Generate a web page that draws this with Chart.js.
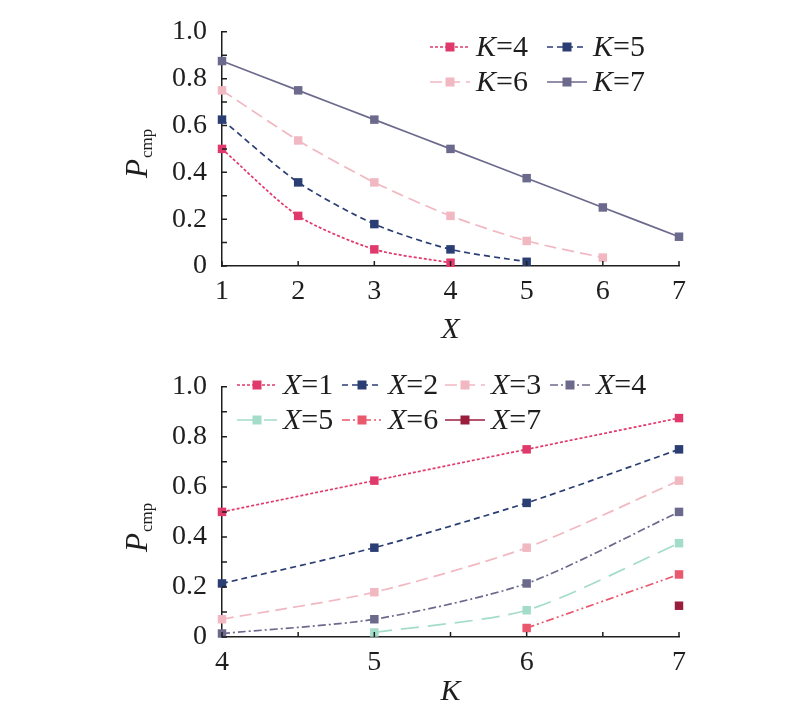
<!DOCTYPE html>
<html>
<head>
<meta charset="UTF-8">
<title>Pcmp</title>
<script src="https://cdn.jsdelivr.net/npm/chart.js"></script>
<style>
  body { margin: 0; background: #fff; }
  canvas { display: block; }
</style>
</head>
<body>
<canvas id="topChart" width="800" height="355"></canvas>
<canvas id="bottomChart" width="800" height="356"></canvas>
<script>
// x values of each panel
const xVals = [1, 2, 3, 4, 5, 6, 7];
const kVals = [4, 5, 6, 7];

// top panel: P_cmp against X, one series per K
const pK4 = [0.5, 0.214, 0.071, 0.014];
const pK5 = [0.625, 0.357, 0.179, 0.071, 0.018];
const pK6 = [0.75, 0.536, 0.357, 0.214, 0.107, 0.036];
const pK7 = [0.875, 0.75, 0.625, 0.5, 0.375, 0.25, 0.125];

// bottom panel: P_cmp against K, one series per X
const pX1 = [0.5, 0.625, 0.75, 0.875];
const pX2 = [0.214, 0.357, 0.536, 0.75];
const pX3 = [0.071, 0.179, 0.357, 0.625];
const pX4 = [0.014, 0.071, 0.214, 0.5];
const pX5 = [null, 0.018, 0.107, 0.375];
const pX6 = [null, null, 0.036, 0.25];
const pX7 = [null, null, null, 0.125];

const yTicks = ['0', '0.2', '0.4', '0.6', '0.8', '1.0'];

const SERIF = '"Liberation Serif", "DejaVu Serif", serif';
const INK = '#1e1e1e';

const styles = {
  pink:   { color: '#e03a6c', dash: [3, 2] },
  navy:   { color: '#2b3e74', dash: [6, 4] },
  rose:   { color: '#f1b8c1', dash: [12, 6] },
  slate:  { color: '#6c6a8c', dash: [] },
  slateD: { color: '#6c6a8c', dash: [8, 3, 2, 3] },
  mint:   { color: '#a4dcca', dash: [18, 9] },
  coral:  { color: '#e9586c', dash: [8, 3, 2, 3, 2, 3] },
  wine:   { color: '#9a1d3e', dash: [] }
};

function makeSet(label, xs, vals, st) {
  return {
    label: label,
    data: vals.map((v, i) => ({ x: xs[i], y: v })),
    borderColor: st.color,
    backgroundColor: st.color,
    borderDash: st.dash,
    borderWidth: 1.7,
    pointStyle: 'rect',
    pointRadius: 6,
    pointHoverRadius: 6,
    pointBorderWidth: 0,
    tension: 0.25,
    spanGaps: false,
    clip: false
  };
}

// inward tick marks, axis titles and legend
function decor(cfg) {
  return {
    id: 'decor',
    afterDraw(chart) {
      const { ctx, scales: { x, y } } = chart;
      ctx.save();
      ctx.strokeStyle = INK;
      ctx.lineWidth = 1.5;
      ctx.setLineDash([]);
      ctx.beginPath();
      x.ticks.forEach(t => {
        const px = x.getPixelForValue(t.value);
        ctx.moveTo(px, y.bottom);
        ctx.lineTo(px, y.bottom - 5);
      });
      y.ticks.forEach(t => {
        const py = y.getPixelForValue(t.value);
        ctx.moveTo(x.left, py);
        ctx.lineTo(x.left + 5, py);
      });
      ctx.stroke();

      ctx.fillStyle = INK;
      // x title
      ctx.font = 'italic 30px ' + SERIF;
      ctx.textAlign = 'center';
      ctx.textBaseline = 'middle';
      ctx.fillText(cfg.xTitle, (x.left + x.right) / 2, cfg.xTitleY);

      // y title P_cmp, rotated
      ctx.save();
      ctx.translate(147, cfg.yTitleY);
      ctx.rotate(-Math.PI / 2);
      ctx.textAlign = 'left';
      ctx.textBaseline = 'alphabetic';
      ctx.font = 'italic 31px ' + SERIF;
      ctx.fillText('P', 0, 0);
      const wP = ctx.measureText('P').width;
      ctx.font = '17px ' + SERIF;
      ctx.fillText('cmp', wP + 1, 5);
      ctx.restore();

      // legend
      chart.data.datasets.forEach((ds, i) => {
        const [lx, ly] = cfg.legend[i];
        ctx.strokeStyle = ds.borderColor;
        ctx.lineWidth = 1.7;
        ctx.setLineDash(ds.borderDash);
        ctx.beginPath();
        ctx.moveTo(lx, ly);
        ctx.lineTo(lx + 40, ly);
        ctx.stroke();
        ctx.setLineDash([]);
        ctx.fillStyle = ds.backgroundColor;
        ctx.fillRect(lx + 20 - 4.5, ly - 4.5, 9, 9);
        const parts = ds.label.split('=');
        ctx.fillStyle = INK;
        ctx.textAlign = 'left';
        ctx.textBaseline = 'middle';
        ctx.font = 'italic 30px ' + SERIF;
        ctx.fillText(parts[0], lx + 46, ly + 1);
        const w = ctx.measureText(parts[0]).width;
        ctx.font = '30px ' + SERIF;
        ctx.fillText('=' + parts[1], lx + 46 + w, ly + 1);
      });
      ctx.restore();
    }
  };
}

function axisOpts(min, max, step, labelFn, isX, size) {
  return {
    type: 'linear',
    min: min,
    max: max,
    grid: { display: false, drawTicks: false },
    border: { display: true, color: INK, width: 1.5 },
    ticks: {
      stepSize: step,
      autoSkip: false,
      color: INK,
      font: { family: SERIF, size: 28 },
      padding: isX ? 9 : 15,
      callback: labelFn
    },
    afterFit: s => { if (isX) s.height = size; else s.width = size; }
  };
}

const yLabel = v => {
  const n = Math.round(v * 10);
  return n % 2 === 0 ? yTicks[n / 2] : '';
};

new Chart(document.getElementById('topChart'), {
  type: 'line',
  data: {
    datasets: [
      makeSet('K=4', xVals, pK4, styles.pink),
      makeSet('K=5', xVals, pK5, styles.navy),
      makeSet('K=6', xVals, pK6, styles.rose),
      makeSet('K=7', xVals, pK7, styles.slate)
    ]
  },
  options: {
    responsive: false,
    animation: false,
    layout: { padding: { left: 0, right: 121, top: 20, bottom: 0 } },
    plugins: { legend: { display: false }, tooltip: { enabled: false } },
    scales: {
      x: axisOpts(1, 7, 1, v => String(v), true, 89),
      y: axisOpts(0, 1, 0.1, yLabel, false, 222)
    }
  },
  plugins: [decor({
    xTitle: 'X', xTitleY: 330, yTitleY: 178,
    legend: [[430, 47], [547, 47], [430, 82], [547, 82]]
  })]
});

new Chart(document.getElementById('bottomChart'), {
  type: 'line',
  data: {
    datasets: [
      makeSet('X=1', kVals, pX1, styles.pink),
      makeSet('X=2', kVals, pX2, styles.navy),
      makeSet('X=3', kVals, pX3, styles.rose),
      makeSet('X=4', kVals, pX4, styles.slateD),
      makeSet('X=5', kVals, pX5, styles.mint),
      makeSet('X=6', kVals, pX6, styles.coral),
      makeSet('X=7', kVals, pX7, styles.wine)
    ]
  },
  options: {
    responsive: false,
    animation: false,
    layout: { padding: { left: 0, right: 121, top: 28, bottom: 0 } },
    plugins: { legend: { display: false }, tooltip: { enabled: false } },
    scales: {
      x: axisOpts(4, 7, 0.5, v => (Number.isInteger(v) ? String(v) : ''), true, 74),
      y: axisOpts(0, 1, 0.1, yLabel, false, 222)
    }
  },
  plugins: [decor({
    xTitle: 'K', xTitleY: 337, yTitleY: 197,
    legend: [[237, 30], [342, 30], [445, 30], [550, 30], [237, 65], [342, 65], [445, 65]]
  })]
});
</script>
</body>
</html>
